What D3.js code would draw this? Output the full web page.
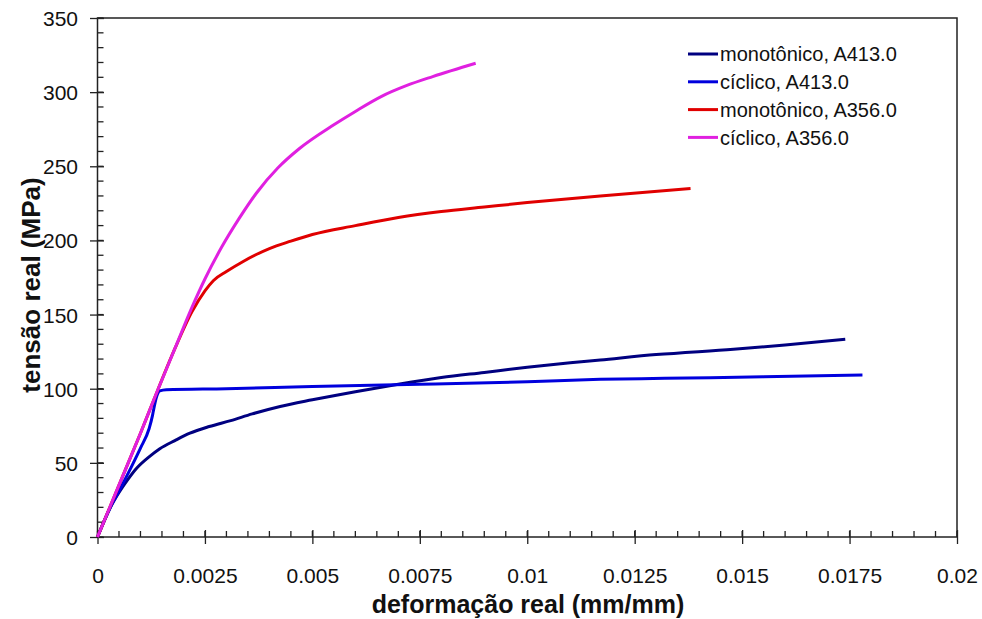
<!doctype html>
<html>
  <head>
    <meta charset="UTF-8"/>
    <title>Tensão x deformação</title>
    <script src="https://cdnjs.cloudflare.com/ajax/libs/d3/7.8.5/d3.min.js"></script>
    <style>
      body { margin: 0; padding: 0; background: #fff; }
      svg { display: block; font-family: "Liberation Sans", Arial, sans-serif; }
      .tick text { font-size: 21px; fill: #111; }
    </style>
  </head>
  <body>
    <svg id="chart" width="982" height="619"></svg>
    <script>
      // strain (mm/mm), stress (MPa)
      const monoA413 = [
        [0, 0], [0.0003, 20], [0.0005, 30], [0.0007, 38.5], [0.0009, 46], [0.0012, 54],
        [0.00145, 59.5], [0.0018, 65], [0.00215, 70], [0.0026, 74.5], [0.0031, 78.5],
        [0.0036, 83], [0.00425, 88], [0.005, 92.5], [0.006, 98], [0.007, 103],
        [0.008, 107.5], [0.009, 111], [0.01, 114.5], [0.011, 117.5], [0.0117, 119.4],
        [0.013, 123], [0.0148, 126.6], [0.016, 129.5], [0.0174, 133.3]
      ];
      const cicA413 = [
        [0, 0], [0.0003, 20], [0.0005, 31], [0.0008, 48], [0.001, 60], [0.0012, 73],
        [0.00128, 82], [0.0013, 85], [0.00138, 95], [0.00145, 98.5], [0.0016, 99.3],
        [0.003, 100], [0.005, 101.5], [0.0075, 103], [0.01, 104.7], [0.0117, 106.3],
        [0.0132, 107], [0.0155, 108], [0.0178, 109.2]
      ];
      const monoA356 = [
        [0, 0], [0.0005, 35], [0.001, 70], [0.0014, 99], [0.0018, 127], [0.0022, 152],
        [0.0025, 166], [0.0027, 173], [0.003, 179], [0.0034, 186], [0.004, 194.5],
        [0.0045, 199.5], [0.005, 204], [0.006, 210], [0.007, 215.5], [0.008, 219.5],
        [0.009, 222.5], [0.01, 225.5], [0.0117, 230], [0.0138, 235]
      ];
      const cicA356 = [
        [0, 0], [0.0005, 35], [0.001, 70], [0.0014, 99], [0.0018, 127], [0.0022, 155],
        [0.0025, 174], [0.0029, 196], [0.0033, 215], [0.0037, 232], [0.0042, 249],
        [0.0047, 262], [0.0055, 278], [0.006, 287], [0.0066, 297], [0.0072, 304.5],
        [0.0078, 310.5], [0.0088, 319.5]
      ];
      const seriesNames = ["monotônico, A413.0", "cíclico, A413.0", "monotônico, A356.0", "cíclico, A356.0"];
      const seriesColors = ["#000080", "#0000dd", "#e00000", "#e020e0"];
      const xTicks = [0, 0.0025, 0.005, 0.0075, 0.01, 0.0125, 0.015, 0.0175, 0.02];
      const yTicks = [0, 50, 100, 150, 200, 250, 300, 350];

      const allSeries = [monoA413, cicA413, monoA356, cicA356];
      const svg = d3.select("#chart");
      const m = { left: 97.5, right: 957, top: 18, bottom: 537 };

      const x = d3.scaleLinear().domain([0, 0.02]).range([m.left, m.right]);
      const y = d3.scaleLinear().domain([0, 350]).range([m.bottom, m.top]);

      // frame
      svg.append("rect")
        .attr("x", m.left).attr("y", m.top)
        .attr("width", m.right - m.left).attr("height", m.bottom - m.top)
        .attr("fill", "none").attr("stroke", "#222").attr("stroke-width", 1.5);

      // minor ticks (inside)
      const g = svg.append("g").attr("stroke", "#222").attr("stroke-width", 1.3);
      g.selectAll(".mx").data(d3.range(0, 41).map(i => i * 0.0005)).join("line")
        .attr("x1", d => x(d)).attr("x2", d => x(d))
        .attr("y1", m.bottom).attr("y2", m.bottom - 6);
      g.selectAll(".my").data(d3.range(0, 36).map(i => i * 10)).join("line")
        .attr("y1", d => y(d)).attr("y2", d => y(d))
        .attr("x1", m.left).attr("x2", m.left + 6);

      // major ticks and labels
      const xAxis = svg.append("g").attr("transform", `translate(0,${m.bottom + 7})`)
        .call(d3.axisBottom(x).tickValues(xTicks).tickSize(14).tickSizeOuter(0)
          .tickFormat(d => d === 0 ? "0" : String(+d.toFixed(4))));
      xAxis.select(".domain").remove();
      xAxis.selectAll(".tick line").attr("stroke", "#222").attr("stroke-width", 1.3).attr("y1", -14).attr("y2", 0);
      xAxis.selectAll(".tick text").attr("y", 24).attr("dy", "0.71em");

      const yAxis = svg.append("g").attr("transform", `translate(${m.left - 7.5},0)`)
        .call(d3.axisLeft(y).tickValues(yTicks).tickSize(0).tickSizeOuter(0));
      yAxis.select(".domain").remove();
      yAxis.selectAll(".tick line").attr("stroke", "#222").attr("stroke-width", 1.3).attr("x1", 0).attr("x2", 14);
      yAxis.selectAll(".tick text").attr("x", -12).attr("dy", "0.36em");
      svg.selectAll(".tick text").attr("font-family", "Liberation Sans, Arial, sans-serif");

      // curves
      const line = d3.line().x(d => x(d[0])).y(d => y(d[1])).curve(d3.curveMonotoneX);
      svg.append("g").selectAll("path").data(allSeries).join("path")
        .attr("d", line)
        .attr("fill", "none")
        .attr("stroke", (d, i) => seriesColors[i])
        .attr("stroke-width", 3)
        .attr("stroke-linejoin", "round");

      // axis titles
      svg.append("text")
        .attr("x", 528).attr("y", 613)
        .attr("text-anchor", "middle")
        .attr("font-size", 25).attr("font-weight", "bold").attr("fill", "#111")
        .text("deformação real (mm/mm)");
      svg.append("text")
        .attr("transform", "translate(40,285) rotate(-90)")
        .attr("text-anchor", "middle")
        .attr("font-size", 26).attr("font-weight", "bold").attr("fill", "#111")
        .text("tensão real (MPa)");

      // legend
      const leg = svg.append("g").attr("transform", "translate(688,54)");
      const item = leg.selectAll("g").data(seriesNames).join("g")
        .attr("transform", (d, i) => `translate(0,${i * 27.8})`);
      item.append("line").attr("x1", 0).attr("x2", 30)
        .attr("stroke", (d, i) => seriesColors[i]).attr("stroke-width", 3);
      item.append("text").attr("x", 32).attr("dy", "0.36em")
        .attr("font-size", 20).attr("fill", "#111")
        .text(d => d);
    </script>
  </body>
</html>
